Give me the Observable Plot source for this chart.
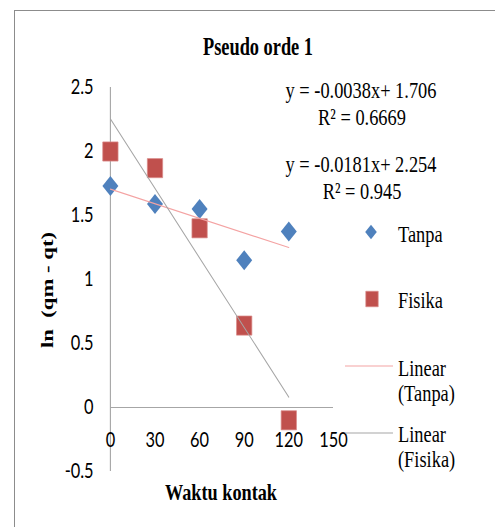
<!DOCTYPE html>
<html><head><meta charset="utf-8">
<script src="https://cdn.jsdelivr.net/npm/d3@7"></script>
<script src="https://cdn.jsdelivr.net/npm/@observablehq/plot@0.6"></script>
<style>
html,body{margin:0;padding:0;background:#fff;overflow:hidden}
#wrap{position:relative;width:495px;height:527px;overflow:hidden;background:#fff}
#frame{position:absolute;left:14px;top:10px;width:600px;height:600px;border-left:1.5px solid #8c8c8c;border-top:1.5px solid #8c8c8c;pointer-events:none}
#chart{position:absolute;left:0;top:0}
</style></head><body>
<div id="wrap"><div id="chart"></div><div id="frame"></div></div>
<script>
// ---- data ----
const times = [0, 30, 60, 90, 120];
const tanpa = [1.73, 1.59, 1.55, 1.15, 1.375];
const fisika = [2.00, 1.87, 1.40, 0.64, -0.10];
const seriesNames = ["Tanpa", "Fisika"];
const slopes = [-0.0038, -0.0181];
const intercepts = [1.706, 2.254];
const r2Labels = ["0.6669", "0.945"];
const xTicks = [0, 30, 60, 90, 120, 150];
const yTicks = [-0.5, 0, 0.5, 1, 1.5, 2, 2.5];

const colors = {Tanpa: "#4f81bd", Fisika: "#c0504d"};
const lineColors = {Tanpa: "#f4a3a3", Fisika: "#a6a6a6"};

// horizontal compression of the reference picture
const W = 619, H = 527, S = 495 / W;
const ux = px => px / S;

const points = [
  ...times.map((t, i) => ({series: "Tanpa", t, v: tanpa[i]})),
  ...times.map((t, i) => ({series: "Fisika", t, v: fisika[i]}))
];
const trend = seriesNames.flatMap((s, k) =>
  [times[0], times[times.length - 1]].map(t => ({series: s, t, v: intercepts[k] + slopes[k] * t})));

const serif = "'Liberation Serif', 'Times New Roman', serif";
const sans = "Lato, 'Liberation Sans', sans-serif";

const plot = Plot.plot({
  width: W, height: H,
  marginLeft: ux(110), marginRight: W - ux(333), marginTop: 87, marginBottom: 56,
  x: {domain: [0, 150], axis: null},
  y: {domain: [-0.5, 2.5], axis: null},
  style: {background: "transparent", color: "#000", overflow: "visible"},
  marks: [
    Plot.ruleX([0], {stroke: "#a6a6a6", strokeWidth: 1.4}),
    Plot.ruleY([0], {x1: 0, x2: 150, stroke: "#a6a6a6", strokeWidth: 1.1}),
    Plot.axisY(yTicks, {label: null, tickSize: 0, tickPadding: 21, fontSize: 20.5, fontFamily: sans, tickFormat: d => String(d), fill: "#000"}),
    Plot.text(xTicks, {x: d => d, y: () => 0, dy: 33, text: d => String(d), fontSize: 20.5, fontFamily: sans, fill: "#000"}),
    Plot.dot(points.filter(d => d.series === "Tanpa"), {x: "t", y: "v", symbol: "diamond2", r: 9, fill: colors.Tanpa, stroke: "none"}),
    Plot.dot(points.filter(d => d.series === "Fisika"), {x: "t", y: "v", symbol: "square", r: 10.8, fill: colors.Fisika, stroke: "#d98b8a", strokeWidth: 0.8}),
    Plot.line(trend, {x: "t", y: "v", z: "series", stroke: d => lineColors[d.series], strokeWidth: 1.2})
  ]
});

plot.setAttribute("width", 495);
plot.setAttribute("height", H);
plot.setAttribute("viewBox", `0 0 ${W} ${H}`);
plot.setAttribute("preserveAspectRatio", "none");
plot.style.width = "495px";
plot.style.height = H + "px";
plot.style.maxWidth = "none";
document.getElementById("chart").appendChild(plot);

const svg = d3.select(plot);
const g = svg.append("g").attr("fill", "#000");

// title
g.append("text").attr("x", ux(258)).attr("y", 55).attr("text-anchor", "middle")
  .attr("font-family", serif).attr("font-weight", "bold").attr("font-size", 25)
  .attr("textLength", ux(110)).attr("lengthAdjust", "spacingAndGlyphs").text("Pseudo orde 1");

// axis titles
g.append("text").attr("x", ux(221)).attr("y", 500).attr("text-anchor", "middle")
  .attr("font-family", serif).attr("font-weight", "bold").attr("font-size", 24)
  .attr("textLength", ux(112)).attr("lengthAdjust", "spacingAndGlyphs").text("Waktu kontak");
g.append("text").attr("transform", `translate(${ux(47)},290) rotate(-90)`).attr("text-anchor", "middle")
  .attr("dy", "0.32em").attr("font-family", serif).attr("font-weight", "bold").attr("font-size", 22)
  .attr("textLength", 116).attr("lengthAdjust", "spacingAndGlyphs").text("ln  (qm - qt)");

// equations
const fmtEq = k => `y = ${slopes[k]}x+ ${intercepts[k]}`;
const eqBase = [98, 172];
seriesNames.forEach((s, k) => {
  g.append("text").attr("x", ux(361)).attr("y", eqBase[k]).attr("text-anchor", "middle")
    .attr("font-family", serif).attr("font-size", 23).text(fmtEq(k));
  g.append("text").attr("x", ux(362)).attr("y", eqBase[k] + 27).attr("text-anchor", "middle")
    .attr("font-family", serif).attr("font-size", 23).text(`R² = ${r2Labels[k]}`);
});

// legend
const lg = svg.append("g").attr("font-family", serif).attr("font-size", 23).attr("fill", "#000").attr("text-anchor", "start");
lg.append("path").attr("transform", `translate(${ux(371)},232)`)
  .attr("d", d3.symbol(d3.symbolDiamond2, 135)()).attr("fill", colors.Tanpa);
lg.append("text").attr("x", ux(398)).attr("y", 242).text(seriesNames[0]);
lg.append("path").attr("transform", `translate(${ux(372)},299)`)
  .attr("d", d3.symbol(d3.symbolSquare, 240)()).attr("fill", colors.Fisika).attr("stroke", "#d98b8a").attr("stroke-width", 0.8);
lg.append("text").attr("x", ux(398)).attr("y", 308).text(seriesNames[1]);
const linY = [366, 433], linText = [376, 442];
seriesNames.forEach((s, k) => {
  lg.append("line").attr("x1", ux(345)).attr("x2", ux(393)).attr("y1", linY[k]).attr("y2", linY[k])
    .attr("stroke", lineColors[s]).attr("stroke-width", 1.2);
  lg.append("text").attr("x", ux(398)).attr("y", linText[k]).text("Linear");
  lg.append("text").attr("x", ux(398)).attr("y", linText[k] + 25).text(`(${s})`);
});
</script>
</body></html>
